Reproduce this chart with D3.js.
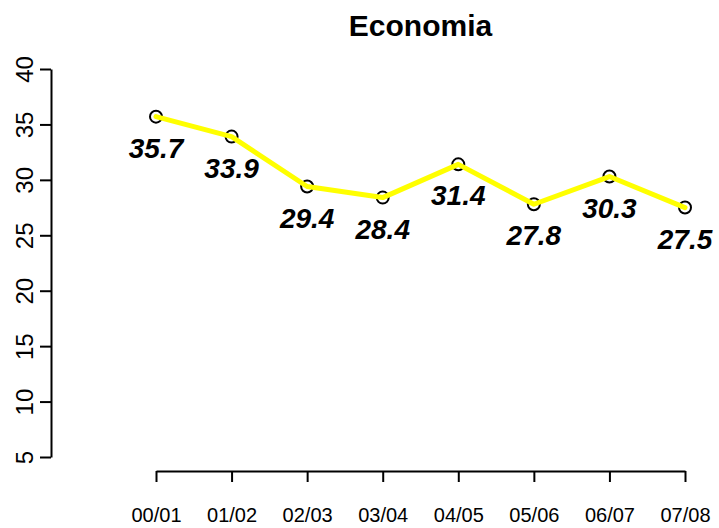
<!DOCTYPE html>
<html>
<head>
<meta charset="utf-8">
<script src="https://cdn.jsdelivr.net/npm/d3@7"></script>
<style>
    body { margin: 0; background: #fff; }
    text { font-family: "Liberation Sans", Arial, sans-serif; }
</style>
</head>
<body>
<svg id="chart"></svg>
<script>
const seasons = ['00/01', '01/02', '02/03', '03/04', '04/05', '05/06', '06/07', '07/08'];
const values = [35.7, 33.9, 29.4, 28.4, 31.4, 27.8, 30.3, 27.5];
const yTicks = [5, 10, 15, 20, 25, 30, 35, 40];
const title = 'Economia';

const width = 719, height = 528;

const svg = d3.select('#chart')
    .attr('width', width)
    .attr('height', height);

const xScale = d3.scalePoint().domain(seasons).range([156, 685]);
const yScale = d3.scaleLinear().domain([5, 40]).range([457, 69]);

// title
svg.append('text')
    .attr('x', 420.5)
    .attr('y', 36)
    .attr('text-anchor', 'middle')
    .style('font-weight', 'bold')
    .style('font-size', '30px')
    .text(title);

// y axis
const yAxisG = svg.append('g')
    .attr('transform', 'translate(51,0)')
    .call(d3.axisLeft(yScale).tickValues(yTicks).tickSize(11).tickSizeOuter(0).tickFormat(d3.format('d')));

yAxisG.selectAll('path, line')
    .attr('stroke', '#000')
    .attr('stroke-width', 2);

yAxisG.selectAll('text')
    .attr('x', null)
    .attr('dy', null)
    .attr('transform', 'translate(-18,0) rotate(-90)')
    .attr('text-anchor', 'middle')
    .attr('fill', '#000')
    .attr('font-size', 24);

// x axis
const xAxisG = svg.append('g')
    .attr('transform', 'translate(0,471)')
    .call(d3.axisBottom(xScale).tickSize(11).tickSizeOuter(0));

xAxisG.selectAll('path, line')
    .attr('stroke', '#000')
    .attr('stroke-width', 2);

xAxisG.selectAll('text')
    .attr('y', 51)
    .attr('dy', null)
    .attr('fill', '#000')
    .attr('font-size', 20);

// points first, the yellow line goes over them
svg.selectAll('.point')
    .data(values)
    .join('circle')
    .attr('class', 'point')
    .attr('cx', (d, i) => xScale(seasons[i]))
    .attr('cy', d => yScale(d))
    .attr('r', 6)
    .attr('fill', 'none')
    .attr('stroke', '#000')
    .attr('stroke-width', 2);

const line = d3.line()
    .x((d, i) => xScale(seasons[i]))
    .y(d => yScale(d));

svg.append('path')
    .datum(values)
    .attr('d', line)
    .attr('fill', 'none')
    .attr('stroke', '#ffff00')
    .attr('stroke-width', 5)
    .attr('stroke-linejoin', 'round')
    .attr('stroke-linecap', 'round');

// value labels under each point
svg.selectAll('.val')
    .data(values)
    .join('text')
    .attr('class', 'val')
    .attr('x', (d, i) => xScale(seasons[i]))
    .attr('y', d => yScale(d) + 41)
    .attr('text-anchor', 'middle')
    .style('font-weight', 'bold')
    .style('font-style', 'italic')
    .style('font-size', '28px')
    .text(d => d.toFixed(1));
</script>
</body>
</html>
